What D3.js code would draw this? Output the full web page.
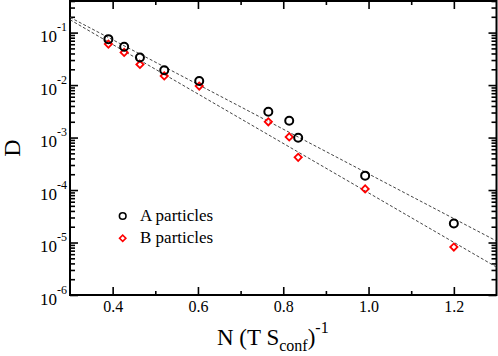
<!DOCTYPE html>
<html>
<head>
<meta charset="utf-8">
<script src="https://cdn.jsdelivr.net/npm/d3@7"></script>
<style>
  body { margin: 0; background: #fff; }
  text { font-family: "Liberation Serif", "DejaVu Serif", serif; fill: #000; }
</style>
</head>
<body>
<script>
// data
var xVals = [0.390, 0.427, 0.464, 0.521, 0.603, 0.765, 0.814, 0.835, 0.992, 1.200];
var dA = [0.075, 0.0536, 0.0336, 0.0192, 0.0120, 0.00311, 0.00209, 0.00099, 1.88e-4, 2.31e-5];
var dB = [0.0603, 0.0418, 0.0247, 0.0149, 0.0096, 0.0020, 0.00103, 4.2e-4, 1.05e-4, 8.2e-6];

// dashed fit lines (end points)
var fitX = [0.3, 1.3];
var fitA = [0.195, 1.07e-5];
var fitB = [0.176, 3.4e-6];

// ticks
var xMajor = [0.4, 0.6, 0.8, 1.0, 1.2];
var xMinor = [0.5, 0.7, 0.9, 1.1];
var yExp = [-6, -5, -4, -3, -2, -1];

var W = 498, H = 356;
var margin = {top: 1, right: 1.5, bottom: 61, left: 70};
var width = W - margin.left - margin.right,
    height = H - margin.top - margin.bottom;

var x = d3.scaleLinear().domain([0.3, 1.3]).range([0, width]);
var y = d3.scaleLog().domain([1e-6, 0.4]).range([height, 0]);

var svg = d3.select("body").append("svg")
    .attr("width", W)
    .attr("height", H);

var g = svg.append("g")
    .attr("transform", "translate(" + margin.left + "," + margin.top + ")");

g.append("clipPath").attr("id", "clip")
  .append("rect").attr("width", width).attr("height", height);

// minor y ticks: 2..9 x 10^k
var yMinor = [];
for (var k = -6; k <= -1; k++) {
  for (var m = 2; m <= 9; m++) {
    var v = m * Math.pow(10, k);
    if (v <= 0.4) yMinor.push(v);
  }
}

function styleAxis(sel) {
  sel.attr("font-family", null).attr("font-size", null);
  sel.select(".domain").remove();
  sel.selectAll("line").attr("stroke", "#000").attr("stroke-width", 1.6);
}

// x axes (ticks pointing inward)
g.append("g").attr("transform", "translate(0," + height + ")")
  .call(d3.axisBottom(x).tickValues(xMajor).tickSizeInner(-8).tickSizeOuter(0)
    .tickPadding(6).tickFormat(d3.format(".1f")))
  .call(styleAxis)
  .call(s => s.selectAll("text").attr("font-size", 16));
g.append("g").attr("transform", "translate(0," + height + ")")
  .call(d3.axisBottom(x).tickValues(xMinor).tickSizeInner(-4).tickSizeOuter(0).tickFormat(""))
  .call(styleAxis);
g.append("g")
  .call(d3.axisTop(x).tickValues(xMajor).tickSizeInner(-8).tickSizeOuter(0).tickFormat(""))
  .call(styleAxis);
g.append("g")
  .call(d3.axisTop(x).tickValues(xMinor).tickSizeInner(-4).tickSizeOuter(0).tickFormat(""))
  .call(styleAxis);

// y axes
var yMajor = yExp.map(e => Math.pow(10, e));
g.append("g")
  .call(d3.axisLeft(y).tickValues(yMajor).tickSizeInner(-8).tickSizeOuter(0).tickFormat(""))
  .call(styleAxis);
g.append("g")
  .call(d3.axisLeft(y).tickValues(yMinor).tickSizeInner(-5).tickSizeOuter(0).tickFormat(""))
  .call(styleAxis);
g.append("g").attr("transform", "translate(" + width + ",0)")
  .call(d3.axisRight(y).tickValues(yMajor).tickSizeInner(-8).tickSizeOuter(0).tickFormat(""))
  .call(styleAxis);
g.append("g").attr("transform", "translate(" + width + ",0)")
  .call(d3.axisRight(y).tickValues(yMinor).tickSizeInner(-5).tickSizeOuter(0).tickFormat(""))
  .call(styleAxis);

// y tick labels 10^k
yExp.forEach(function(e) {
  var t = g.append("text")
    .attr("x", -3)
    .attr("y", y(Math.pow(10, e)) + 9.5)
    .attr("text-anchor", "end")
    .attr("font-size", 17);
  t.append("tspan").text("10");
  t.append("tspan").attr("font-size", 12).attr("dy", -11).text(String(e));
});

// frame
g.append("rect")
  .attr("width", width).attr("height", height)
  .attr("fill", "none").attr("stroke", "#000").attr("stroke-width", 2);

// fit lines
var line = d3.line().x(d => x(d[0])).y(d => y(d[1]));
[fitA, fitB].forEach(function(f) {
  g.append("path")
    .datum(fitX.map((xv, i) => [xv, f[i]]))
    .attr("clip-path", "url(#clip)")
    .attr("d", line)
    .attr("fill", "none")
    .attr("stroke", "#444")
    .attr("stroke-width", 1)
    .attr("stroke-dasharray", "3,2");
});

// points
var diamond = d3.symbol().type(d3.symbolSquare).size(26);
g.selectAll(".ptB").data(xVals.map((xv, i) => [xv, dB[i]]))
  .enter().append("path")
  .attr("class", "ptB")
  .attr("d", diamond)
  .attr("transform", d => "translate(" + x(d[0]) + "," + y(d[1]) + ") rotate(45)")
  .attr("fill", "none").attr("stroke", "#ff0000").attr("stroke-width", 1.8);

g.selectAll(".ptA").data(xVals.map((xv, i) => [xv, dA[i]]))
  .enter().append("circle")
  .attr("class", "ptA")
  .attr("cx", d => x(d[0])).attr("cy", d => y(d[1]))
  .attr("r", 4)
  .attr("fill", "none").attr("stroke", "#000").attr("stroke-width", 2);

// legend
var leg = svg.append("g");
leg.append("circle").attr("cx", 122.7).attr("cy", 216).attr("r", 3.3)
  .attr("fill", "none").attr("stroke", "#000").attr("stroke-width", 1.6);
leg.append("text").attr("x", 140).attr("y", 221).attr("font-size", 17).text("A particles");
leg.append("path").attr("d", d3.symbol().type(d3.symbolSquare).size(20))
  .attr("transform", "translate(122.7,238.3) rotate(45)")
  .attr("fill", "none").attr("stroke", "#ff0000").attr("stroke-width", 1.6);
leg.append("text").attr("x", 140).attr("y", 243).attr("font-size", 17).text("B particles");

// axis titles
var xt = svg.append("text").attr("x", 217).attr("y", 345).attr("font-size", 23);
xt.append("tspan").text("N (T S");
xt.append("tspan").attr("font-size", 16).attr("dy", 6).text("conf");
xt.append("tspan").attr("dy", -6).text(")");
xt.append("tspan").attr("font-size", 16).attr("dy", -12).text("-1");

svg.append("text")
  .attr("transform", "translate(20,148) rotate(-90)")
  .attr("text-anchor", "middle")
  .attr("font-size", 24)
  .text("D");
</script>
</body>
</html>
